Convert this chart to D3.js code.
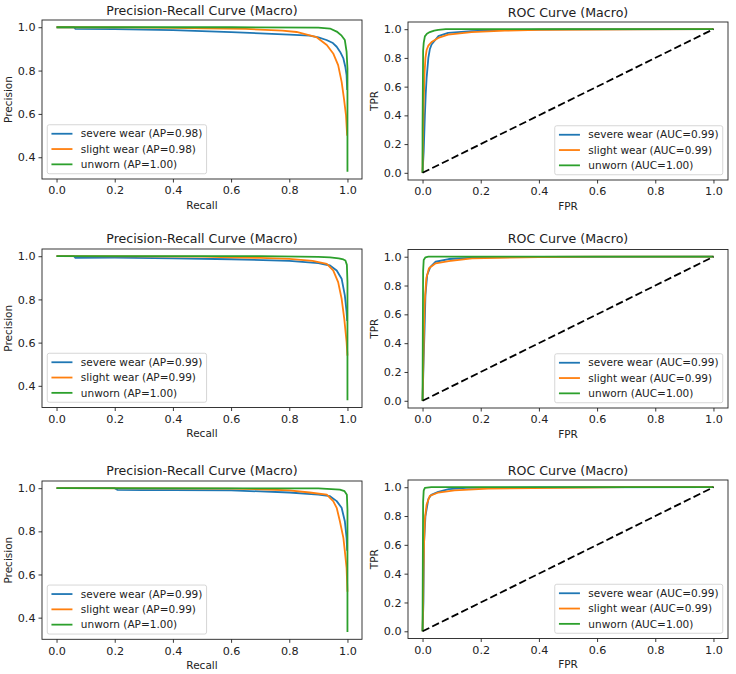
<!DOCTYPE html>
<html>
<head>
<meta charset="utf-8">
<script src="https://cdn.jsdelivr.net/npm/d3@7"></script>
<style>
body { margin: 0; background: #fff; }
svg text { font-family: "DejaVu Sans", sans-serif; fill: #222; }
</style>
</head>
<body>
<svg id="chart" width="736" height="674"></svg>
<script>
// ---- data ----
var classNames = ["severe wear", "slight wear", "unworn"];
var xTickValues = [0, 0.2, 0.4, 0.6, 0.8, 1.0];
var prYTicks = [0.4, 0.6, 0.8, 1.0];
var rocYTicks = [0, 0.2, 0.4, 0.6, 0.8, 1.0];

// AP / AUC per row (severe, slight, unworn)
var prAP = [[0.98, 0.98, 1.00], [0.99, 0.99, 1.00], [0.99, 0.99, 1.00]];
var rocAUC = [[0.99, 0.99, 1.00], [0.99, 0.99, 1.00], [0.99, 0.99, 1.00]];

// row 1 - precision/recall  [recall, precision]
var prSevereA = [[0,1.0],[0.06,1.0],[0.065,0.992],[0.2,0.991],[0.3,0.989],[0.4,0.987],[0.5,0.982],[0.6,0.977],[0.7,0.972],[0.8,0.966],[0.87,0.961],[0.9,0.953],[0.928,0.941],[0.95,0.927],[0.963,0.91],[0.975,0.886],[0.986,0.856],[0.993,0.815],[0.997,0.779],[0.999,0.71]];
var prSlightA = [[0,1.0],[0.25,0.999],[0.4,0.997],[0.5,0.995],[0.65,0.992],[0.776,0.984],[0.825,0.978],[0.867,0.964],[0.894,0.954],[0.929,0.918],[0.951,0.879],[0.968,0.825],[0.98,0.748],[0.988,0.671],[0.995,0.593],[0.999,0.50]];
var prUnwornA = [[0,1.0],[0.6,1.0],[0.9,0.998],[0.94,0.994],[0.963,0.98],[0.98,0.961],[0.991,0.941],[0.997,0.887],[1.0,0.81],[1.0,0.333]];
// row 1 - ROC  [fpr, tpr]
var rocSevereA = [[0,0],[0.004,0.15],[0.008,0.4],[0.011,0.55],[0.014,0.66],[0.02,0.8],[0.025,0.86],[0.031,0.893],[0.054,0.951],[0.088,0.974],[0.168,0.986],[0.28,0.995],[0.5,0.999],[1,1]];
var rocSlightA = [[0,0],[0.002,0.3],[0.004,0.5],[0.007,0.7],[0.01,0.8],[0.014,0.855],[0.02,0.885],[0.031,0.911],[0.054,0.939],[0.088,0.962],[0.168,0.979],[0.283,0.99],[0.4,0.996],[0.74,0.999],[1,1]];
var rocUnwornA = [[0,0],[0,0.3],[0.002,0.85],[0.004,0.905],[0.008,0.95],[0.015,0.968],[0.025,0.98],[0.04,0.99],[0.054,0.995],[0.08,1.0],[1,1]];

// row 2
var prSevereB = [[0,1.0],[0.06,1.0],[0.065,0.992],[0.2,0.993],[0.4,0.99],[0.6,0.986],[0.8,0.978],[0.9,0.968],[0.94,0.957],[0.963,0.934],[0.98,0.896],[0.991,0.819],[0.997,0.742],[0.999,0.70]];
var prSlightB = [[0,1.0],[0.5,0.998],[0.6,0.995],[0.7,0.992],[0.8,0.988],[0.88,0.978],[0.929,0.965],[0.951,0.934],[0.968,0.88],[0.98,0.803],[0.989,0.711],[0.997,0.603],[1.0,0.54]];
var prUnwornB = [[0,1.0],[0.7,1.0],[0.9,0.997],[0.94,0.995],[0.97,0.99],[0.986,0.985],[0.993,0.98],[0.998,0.96],[1.0,0.88],[1.0,0.333]];
var rocSevereB = [[0,0],[0.004,0.3],[0.007,0.5],[0.01,0.734],[0.016,0.873],[0.027,0.93],[0.045,0.965],[0.09,0.984],[0.2,0.995],[0.4,0.999],[1,1]];
var rocSlightB = [[0,0],[0.003,0.3],[0.005,0.5],[0.007,0.665],[0.013,0.85],[0.022,0.92],[0.045,0.954],[0.09,0.97],[0.17,0.989],[0.4,0.998],[0.6,1.0],[1,1]];
var rocUnwornB = [[0,0],[0.001,0.5],[0.002,0.9],[0.004,0.977],[0.01,0.996],[0.02,1.0],[1,1]];

// row 3
var prSevereC = [[0,1.0],[0.2,1.0],[0.21,0.992],[0.3,0.991],[0.4,0.991],[0.6,0.99],[0.7,0.985],[0.8,0.98],[0.9,0.97],[0.94,0.963],[0.963,0.94],[0.98,0.909],[0.991,0.847],[0.997,0.77],[0.999,0.71]];
var prSlightC = [[0,1.0],[0.6,0.998],[0.7,0.995],[0.8,0.99],[0.87,0.98],[0.929,0.97],[0.951,0.94],[0.963,0.909],[0.974,0.847],[0.986,0.77],[0.991,0.708],[0.997,0.63],[1.0,0.52]];
var prUnwornC = [[0,1.0],[0.9,0.999],[0.974,0.993],[0.99,0.986],[0.998,0.97],[1.0,0.9],[1.0,0.333]];
var rocSevereC = [[0,0],[0.003,0.2],[0.005,0.61],[0.01,0.8],[0.02,0.918],[0.03,0.947],[0.054,0.968],[0.09,0.987],[0.15,0.995],[0.4,0.999],[1,1]];
var rocSlightC = [[0,0],[0.002,0.2],[0.003,0.4],[0.005,0.6],[0.008,0.78],[0.014,0.88],[0.025,0.94],[0.054,0.963],[0.11,0.978],[0.225,0.99],[0.55,0.998],[0.7,1.0],[1,1]];
var rocUnwornC = [[0,0],[0.001,0.5],[0.002,0.9],[0.004,0.976],[0.008,0.995],[0.03,1.0],[1,1]];

var chanceLine = [[0, 0], [1, 1]];

// ---- layout / style ----
var COLORS = ["#1f77b4", "#ff7f0e", "#2ca02c"];
var FONT = 10.5, TICK_FONT = 11.2, TITLE_FONT = 12.6;

var panels = [
	{kind: "pr",  left: 42,  top: 20,    width: 320, height: 159,   titleY: 14.5,  curves: [prSevereA, prSlightA, prUnwornA], scores: prAP[0]},
	{kind: "roc", left: 408, top: 22,    width: 320, height: 158,   titleY: 17.3,  curves: [rocSevereA, rocSlightA, rocUnwornA], scores: rocAUC[0]},
	{kind: "pr",  left: 42,  top: 249,   width: 320, height: 158.5, titleY: 242.9, curves: [prSevereB, prSlightB, prUnwornB], scores: prAP[1]},
	{kind: "roc", left: 408, top: 249.5, width: 320, height: 158.5, titleY: 242.9, curves: [rocSevereB, rocSlightB, rocUnwornB], scores: rocAUC[1]},
	{kind: "pr",  left: 42,  top: 481,   width: 320, height: 158.3, titleY: 475.3, curves: [prSevereC, prSlightC, prUnwornC], scores: prAP[2]},
	{kind: "roc", left: 408, top: 480,   width: 320, height: 158.5, titleY: 475.3, curves: [rocSevereC, rocSlightC, rocUnwornC], scores: rocAUC[2]}
];

var svg = d3.select("#chart");

function drawPanel(p) {
	var g = svg.append("g")
		.attr("transform", "translate(" + p.left + "," + p.top + ")");

	var x = d3.scaleLinear().domain([-0.05, 1.05]).range([0, p.width]);
	var yDomain = [-0.05, 1.05];
	if (p.kind == "pr") {
		// matplotlib style 5% margin around the data
		var ext = d3.extent(d3.merge(p.curves), function(d) { return d[1]; });
		var pad = (ext[1] - ext[0]) * 0.05;
		yDomain = [ext[0] - pad, ext[1] + pad];
	}
	var y = d3.scaleLinear().domain(yDomain).range([p.height, 0]);

	// axes
	var xAxis = g.append("g")
		.attr("transform", "translate(0," + p.height + ")")
		.call(d3.axisBottom(x)
			.tickValues(xTickValues)
			.tickFormat(d3.format(".1f"))
			.tickSize(3.5)
			.tickPadding(4));
	var yAxis = g.append("g")
		.call(d3.axisLeft(y)
			.tickValues(p.kind == "pr" ? prYTicks : rocYTicks)
			.tickFormat(d3.format(".1f"))
			.tickSize(3.5)
			.tickPadding(3));
	[xAxis, yAxis].forEach(function(a) {
		a.attr("font-size", TICK_FONT).attr("font-family", null);
		a.select(".domain").remove();
		a.selectAll("line").attr("stroke", "#222").attr("stroke-width", 0.9);
	});

	// curves
	var line = d3.line()
		.x(function(d) { return x(d[0]); })
		.y(function(d) { return y(d[1]); });

	g.selectAll(".curve")
		.data(p.curves)
		.enter()
		.append("path")
		.attr("class", "curve")
		.attr("d", line)
		.attr("fill", "none")
		.attr("stroke", function(d, i) { return COLORS[i]; })
		.attr("stroke-width", 1.8)
		.attr("stroke-linejoin", "round");

	if (p.kind == "roc") {
		g.append("path")
			.attr("d", line(chanceLine))
			.attr("fill", "none")
			.attr("stroke", "#000")
			.attr("stroke-width", 1.8)
			.attr("stroke-dasharray", "7.5,3.3");
	}

	// frame
	g.append("rect")
		.attr("width", p.width)
		.attr("height", p.height)
		.attr("fill", "none")
		.attr("stroke", "#222")
		.attr("stroke-width", 0.9);

	// title + axis labels
	svg.append("text")
		.attr("x", p.left + p.width / 2)
		.attr("y", p.titleY)
		.attr("text-anchor", "middle")
		.attr("font-size", TITLE_FONT)
		.text(p.kind == "pr" ? "Precision-Recall Curve (Macro)" : "ROC Curve (Macro)");

	g.append("text")
		.attr("x", p.width / 2)
		.attr("y", p.height + 29.5)
		.attr("text-anchor", "middle")
		.attr("font-size", FONT)
		.text(p.kind == "pr" ? "Recall" : "FPR");

	g.append("text")
		.attr("transform", "translate(-30," + (p.height / 2) + ") rotate(-90)")
		.attr("text-anchor", "middle")
		.attr("font-size", FONT)
		.text(p.kind == "pr" ? "Precision" : "TPR");

	// legend
	var tag = p.kind == "pr" ? "AP" : "AUC";
	var leg = g.append("g");
	var box = leg.append("rect")
		.attr("rx", 2).attr("ry", 2)
		.attr("fill", "#fff")
		.attr("fill-opacity", 0.8)
		.attr("stroke", "#ccc")
		.attr("stroke-width", 0.8);

	var items = leg.selectAll(".item")
		.data(classNames)
		.enter()
		.append("g")
		.attr("class", "item")
		.attr("transform", function(d, i) { return "translate(0," + (9 + i * 15.3) + ")"; });

	items.append("line")
		.attr("x1", 4.2).attr("x2", 25.2)
		.attr("stroke", function(d, i) { return COLORS[i]; })
		.attr("stroke-width", 1.8);

	items.append("text")
		.attr("x", 33.6)
		.attr("dy", "0.35em")
		.attr("font-size", FONT)
		.text(function(d, i) { return d + " (" + tag + "=" + d3.format(".2f")(p.scores[i]) + ")"; });

	var textW = d3.max(items.selectAll("text").nodes(), function(n) { return n.getComputedTextLength(); });
	var legW = 33.6 + textW + 4.2, legH = 49;
	box.attr("width", legW).attr("height", legH);

	var lx = p.kind == "pr" ? 5.25 : p.width - 5.25 - legW;
	leg.attr("transform", "translate(" + lx + "," + (p.height - 5.25 - legH) + ")");
}

panels.forEach(drawPanel);
</script>
</body>
</html>
